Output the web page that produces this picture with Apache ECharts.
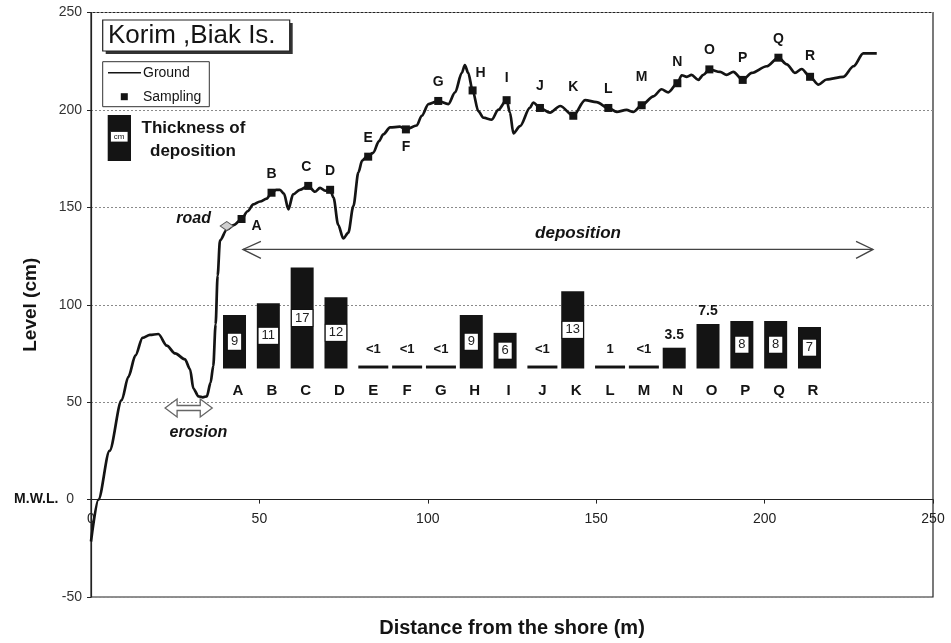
<!DOCTYPE html>
<html><head><meta charset="utf-8">
<script src="https://cdn.jsdelivr.net/npm/echarts@6/dist/echarts.min.js"></script>
<style>html,body{margin:0;padding:0;background:#fff}#c{width:951px;height:643px}</style>
</head><body><div id="c"></div>
<script>
// ---------- DATA ----------
const groundX = [0, 2.2, 5.5, 9.1, 11.1, 13.2, 15.3, 17.5, 20, 22.5, 25, 27.9, 29.4, 30.4, 31.9, 33.2, 34.4, 35.5, 36.3, 37.0, 37.6, 38.3, 40.3, 42.5, 44.7, 46.5, 48.2, 50.2, 52.2, 53.6, 55, 56.1, 57.3, 58.6, 60, 62, 64.5, 66.5, 68, 69.5, 71, 72, 73.4, 74.9, 76.4, 77.9, 79.4, 80.5, 81.9, 83.8, 85.5, 86.8, 88.8, 91.7, 93.5, 96.7, 98.2, 100.2, 103.1, 106.1, 108.1, 110.1, 111, 112, 113.3, 115, 116.5, 119, 120.9, 123.4, 124.4, 125.4, 127.4, 130.3, 131.3, 133.3, 136.3, 139.3, 143.2, 146.7, 150.1, 153.6, 156.1, 159, 161, 163.5, 167, 169.4, 171.4, 174.1, 175.4, 176.9, 178.3, 180.3, 181.8, 183.6, 186.8, 188.7, 190.7, 193.5, 196.2, 200.6, 204.1, 206.6, 209, 211, 213.5, 216, 218.4, 223.4, 226.4, 229.3, 233.3];
const groundY = [-21.5, 0, 25, 51, 63, 74, 83, 84.5, 85, 79, 75, 72, 67, 57, 53, 52.5, 53, 60, 68.5, 90, 115, 133, 138.5, 141, 144, 148, 151.5, 153, 154.5, 157.5, 159, 159, 157, 149, 156.6, 159, 161, 158, 160, 158.5, 159, 155, 141, 134, 137, 150.6, 168, 174, 176, 178, 184, 187.5, 191, 191.4, 190, 192, 197, 203, 204.6, 203, 209, 219, 223, 219, 210, 199.4, 196, 195, 200, 205, 198.6, 188, 191.7, 201, 203.8, 201, 198.6, 202, 197, 205, 204, 201, 199, 200, 199, 202.4, 207, 210.6, 209, 213.7, 217.8, 217, 218, 215.4, 218, 220.8, 219.5, 218, 219.5, 215.4, 219, 222.4, 226.8, 223.4, 219, 221, 217, 213, 215.6, 217, 222.4, 229, 229];

const sampleNames = ['A','B','C','D','E','F','G','H','I','J','K','L','M','N','O','P','Q','R'];
const sampleX = [44.7, 53.6, 64.5, 71, 82.3, 93.5, 103.1, 113.3, 123.4, 133.3, 143.2, 153.6, 163.5, 174.1, 183.6, 193.5, 204.1, 213.5];
const sampleY = [144, 157.5, 161, 159, 176, 190, 204.6, 210, 205, 201, 197, 201, 202.4, 213.7, 220.8, 215.4, 226.8, 217];

const thicknessCats = ['A','B','C','D','E','F','G','H','I','J','K','L','M','N','O','P','Q','R'];
const thicknessValues = [9, 11, 17, 12, null, null, null, 9, 6, null, 13, null, null, 3.5, 7.5, 8, 8, 7];
const traceValues = [null, null, null, null, 0.5, 0.5, 0.5, null, null, 0.5, null, 0.5, 0.5, null, null, null, null, null];
const traceLabels = ['', '', '', '', '<1', '<1', '<1', '', '', '<1', '', '1', '<1', '', '', '', '', ''];

const xTicks = [0, 50, 100, 150, 200, 250];
const yTicks = [-50, 0, 50, 100, 150, 200, 250];
const roadPoint = [40.3, 140.4];

// ---------- STYLE ----------
const FF = '"Liberation Sans", Arial, Helvetica, sans-serif';
const INK = '#141414';
const sampleLabelAdjust = {
  A: {position: 'right', distance: 6, offset: [0, 7]},
  C: {offset: [-2, 0]},
  F: {position: 'bottom', distance: 7},
  H: {offset: [8, 2]},
  I: {offset: [0, -3]},
  J: {offset: [0, -3]},
  K: {offset: [0, -10]},
  M: {offset: [0, -9]},
  N: {offset: [0, -2]},
  P: {offset: [0, -3]},
  R: {offset: [0, -2]}
};
const topLabelCats = ['N', 'O'];
// the x axis sits on the M.W.L. (0) line, 97.4 px above the grid bottom
const X_AXIS_RAISE = -97.4;

const chart = echarts.init(document.getElementById('c'), null, {renderer: 'canvas'});

const option = {
  animation: false,
  backgroundColor: '#ffffff',
  grid: [
    {left: 91, right: 18, top: 12.5, bottom: 46, outerBoundsMode: 'none', containLabel: false,
      show: true, borderColor: '#222', borderWidth: 1.2, backgroundColor: 'transparent'},
    {left: 221.1, right: 121.1, top: 249.7, bottom: 274.5, outerBoundsMode: 'none', containLabel: false, show: false}
  ],
  xAxis: [
    {
      type: 'value', gridIndex: 0, position: 'bottom', offset: X_AXIS_RAISE,
      min: xTicks[0], max: xTicks[xTicks.length - 1], interval: xTicks[1] - xTicks[0],
      name: 'Distance from the shore (m)', nameLocation: 'middle', nameGap: 119, nameMoveOverlap: false,
      nameTextStyle: {fontFamily: FF, fontWeight: 'bold', fontSize: 20, color: INK},
      axisLine: {onZero: false, lineStyle: {color: '#222', width: 1.2}},
      axisTick: {show: true, length: 4, lineStyle: {color: '#222'}},
      axisLabel: {margin: 13, fontFamily: FF, fontSize: 14, color: '#222'},
      splitLine: {show: false}
    },
    {
      type: 'category', gridIndex: 1, data: thicknessCats,
      axisLine: {show: false}, axisTick: {show: false}, splitLine: {show: false},
      axisLabel: {margin: 15, interval: 0, fontFamily: FF, fontWeight: 'bold', fontSize: 15, color: INK}
    }
  ],
  yAxis: [
    {
      type: 'value', gridIndex: 0,
      min: yTicks[0], max: yTicks[yTicks.length - 1], interval: yTicks[1] - yTicks[0],
      name: 'Level (cm)', nameLocation: 'middle', nameGap: 51, nameRotate: 90, nameMoveOverlap: false,
      nameTextStyle: {fontFamily: FF, fontWeight: 'bold', fontSize: 19, color: INK},
      axisLine: {show: true, onZero: false, lineStyle: {color: '#222', width: 1.2}},
      axisTick: {show: true, length: 4, lineStyle: {color: '#222'}},
      axisLabel: {
        margin: 9, fontFamily: FF, fontSize: 14, color: '#333',
        formatter: v => v === 0 ? '{m|M.W.L.}  0{s|}' : String(v),
        rich: {m: {fontFamily: FF, fontWeight: 'bold', fontSize: 14, color: INK}, s: {width: 8}}
      },
      splitLine: {show: true, lineStyle: {color: '#8a8a8a', width: 1, type: [2, 2]}}
    },
    {type: 'value', gridIndex: 1, min: 0, max: 20, show: false, splitLine: {show: false}}
  ],
  series: [
    {
      name: 'Ground', type: 'line', xAxisIndex: 0, yAxisIndex: 0,
      data: groundX.map((x, i) => [x, groundY[i]]),
      smooth: 0.3, smoothMonotone: 'x', symbol: 'none',
      lineStyle: {color: INK, width: 2.7}, z: 3
    },
    {
      name: 'Sampling', type: 'scatter', xAxisIndex: 0, yAxisIndex: 0,
      data: sampleNames.map((n, i) => {
        const d = {name: n, value: [sampleX[i], sampleY[i]]};
        if (sampleLabelAdjust[n]) d.label = sampleLabelAdjust[n];
        return d;
      }),
      symbol: 'rect', symbolSize: 8,
      itemStyle: {color: INK, opacity: 1},
      label: {show: true, formatter: '{b}', position: 'top', distance: 8,
        fontFamily: FF, fontWeight: 'bold', fontSize: 14, color: INK},
      z: 5
    },
    {
      name: 'road', type: 'scatter', xAxisIndex: 0, yAxisIndex: 0,
      data: [roadPoint], symbol: 'diamond', symbolSize: [13, 9],
      itemStyle: {color: '#d0d0d0', borderColor: '#555', borderWidth: 1, opacity: 1}, z: 4
    },
    {
      name: 'Thickness', type: 'bar', xAxisIndex: 1, yAxisIndex: 1,
      barWidth: 23, barGap: '-100%',
      data: thicknessValues.map((v, i) => {
        const d = {value: v};
        if (topLabelCats.indexOf(thicknessCats[i]) >= 0) {
          d.label = {position: 'top', distance: 6, backgroundColor: 'transparent', borderWidth: 0,
            padding: 0, fontWeight: 'bold', fontSize: 14, color: INK};
        }
        return d;
      }),
      itemStyle: {color: INK},
      label: {show: true, position: 'inside', formatter: '{c}',
        fontFamily: FF, fontSize: 13, color: '#222',
        backgroundColor: '#fff', borderColor: '#111', borderWidth: 1, padding: [2, 3, 1, 3]},
      z: 3
    },
    {
      name: 'Trace', type: 'bar', xAxisIndex: 1, yAxisIndex: 1,
      barWidth: 30, barGap: '-100%',
      data: traceValues.map((v, i) => ({value: v, label: {formatter: traceLabels[i]}})),
      itemStyle: {color: INK},
      label: {show: true, position: 'top', distance: 10,
        fontFamily: FF, fontWeight: 'bold', fontSize: 13, color: INK},
      z: 3
    }
  ]
};
chart.setOption(option);

// ---------- ANNOTATIONS (placed through the data scales) ----------
const P = (x, y) => chart.convertToPixel({gridIndex: 0}, [x, y]);
const txt = (text, pos, font, align) => ({
  type: 'text', x: pos[0], y: pos[1], z: 20,
  style: {text, font, fill: INK, align: align || 'center', verticalAlign: 'middle',
    textAlign: align || 'center', textVerticalAlign: 'middle'}
});

const dep0 = P(45.1, 128.4), dep1 = P(232.2, 128.4);
const ero0 = P(22.0, 47), ero1 = P(36.0, 47);
const L = ero1[0] - ero0[0], ex = ero0[0], ey = ero0[1];
const hh = 9, sh = 2.5, hl = 12;

const graphics = [
  {type: 'line', z: 20, shape: {x1: dep0[0], y1: dep0[1], x2: dep1[0], y2: dep1[1]}, style: {stroke: '#444', lineWidth: 1.3}},
  {type: 'polyline', z: 20, shape: {points: [[dep0[0] + 18, dep0[1] - 8], [dep0[0], dep0[1]], [dep0[0] + 18, dep0[1] + 9]]}, style: {stroke: '#444', lineWidth: 1.3, fill: null}},
  {type: 'polyline', z: 20, shape: {points: [[dep1[0] - 17, dep1[1] - 8], [dep1[0], dep1[1]], [dep1[0] - 17, dep1[1] + 9]]}, style: {stroke: '#444', lineWidth: 1.3, fill: null}},
  txt('deposition', P(144.6, 136.9), 'italic bold 17px ' + FF),
  {type: 'polygon', z: 20, shape: {points: [
    [ex, ey], [ex + hl, ey - hh], [ex + hl, ey - sh], [ex + L - hl, ey - sh], [ex + L - hl, ey - hh],
    [ex + L, ey], [ex + L - hl, ey + hh], [ex + L - hl, ey + sh], [ex + hl, ey + sh], [ex + hl, ey + hh]
  ]}, style: {fill: '#fff', stroke: '#666', lineWidth: 1.3}},
  txt('erosion', P(31.9, 34.6), 'italic bold 16px ' + FF),
  txt('road', P(35.6, 144), 'italic bold 16px ' + FF, 'right'),

  {type: 'rect', z: 20, shape: {x: 105.7, y: 23, width: 187, height: 31}, style: {fill: '#333'}},
  {type: 'rect', z: 21, shape: {x: 102.7, y: 20, width: 187, height: 31}, style: {fill: '#fff', stroke: '#222', lineWidth: 1.2}},
  {type: 'text', z: 22, x: 108, y: 36, style: {text: 'Korim ,Biak Is.', font: '26px ' + FF, fill: INK, align: 'left', verticalAlign: 'middle', textAlign: 'left', textVerticalAlign: 'middle'}},

  {type: 'rect', z: 20, shape: {x: 102.7, y: 61.7, width: 106.6, height: 45}, style: {fill: '#fff', stroke: '#333', lineWidth: 1}},
  {type: 'line', z: 21, shape: {x1: 108, y1: 72.7, x2: 141, y2: 72.7}, style: {stroke: INK, lineWidth: 1.4}},
  {type: 'text', z: 21, x: 143, y: 73, style: {text: 'Ground', font: '14px ' + FF, fill: INK, align: 'left', verticalAlign: 'middle', textAlign: 'left', textVerticalAlign: 'middle'}},
  {type: 'rect', z: 21, shape: {x: 120.8, y: 93.2, width: 7, height: 7}, style: {fill: INK}},
  {type: 'text', z: 21, x: 143, y: 97, style: {text: 'Sampling', font: '14px ' + FF, fill: INK, align: 'left', verticalAlign: 'middle', textAlign: 'left', textVerticalAlign: 'middle'}},

  {type: 'rect', z: 20, shape: {x: 107.7, y: 115, width: 23.3, height: 46}, style: {fill: INK}},
  {type: 'rect', z: 21, shape: {x: 110.5, y: 131.5, width: 17.5, height: 10.5}, style: {fill: '#fff', stroke: '#111', lineWidth: 0.8}},
  {type: 'text', z: 22, x: 119.2, y: 137, style: {text: 'cm', font: '8px ' + FF, fill: INK, align: 'center', verticalAlign: 'middle', textAlign: 'center', textVerticalAlign: 'middle'}},
  {type: 'text', z: 21, x: 141.5, y: 128.5, style: {text: 'Thickness of', font: 'bold 17px ' + FF, fill: INK, align: 'left', verticalAlign: 'middle', textAlign: 'left', textVerticalAlign: 'middle'}},
  {type: 'text', z: 21, x: 150, y: 151, style: {text: 'deposition', font: 'bold 17px ' + FF, fill: INK, align: 'left', verticalAlign: 'middle', textAlign: 'left', textVerticalAlign: 'middle'}}
];
chart.setOption({graphic: graphics});
</script>
</body></html>
